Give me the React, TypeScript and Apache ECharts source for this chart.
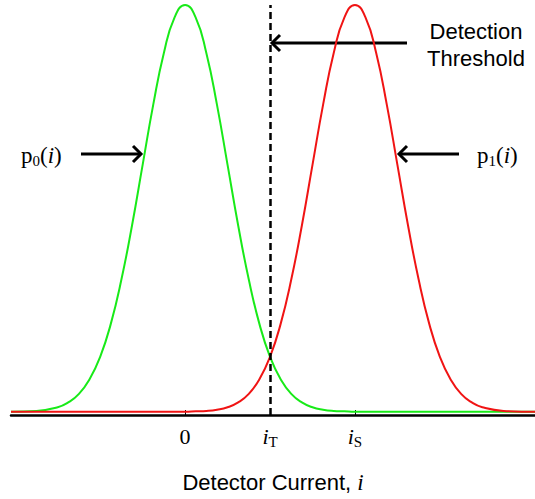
import React, { useEffect, useRef } from "react";
import * as echarts from "echarts";

// Detector current (in units of the noise standard deviation)
const currents = [
  -4.1, -3.5, -3, -2.75, -2.5, -2.25, -2, -1.75, -1.5, -1.25, -1, -0.75, -0.5, -0.25,
  0, 0.25, 0.5, 0.75, 1, 1.25, 1.5, 1.75, 2, 2.25, 2.5, 2.75, 3, 3.25, 3.5, 3.75,
  4, 4.25, 4.5, 4.75, 5, 5.25, 5.5, 5.75, 6, 6.25, 6.5, 6.75, 7, 7.5, 8.24,
];
// p0(i): noise only (relative height, peak = 100)
const p0Values = [
  0, 0.2, 1.1, 2.3, 4.4, 8.0, 13.5, 21.6, 32.5, 45.8, 60.7, 75.5, 88.2, 96.9,
  100, 96.9, 88.2, 75.5, 60.7, 45.8, 32.5, 21.6, 13.5, 8.0, 4.4, 2.3, 1.1, 0.5, 0.2, 0.1,
  0, 0, 0, 0, 0, 0, 0, 0, 0, 0, 0, 0, 0, 0, 0,
];
// p1(i): signal plus noise
const p1Values = [
  0, 0, 0, 0, 0, 0, 0, 0, 0, 0, 0, 0, 0, 0,
  0, 0.1, 0.2, 0.5, 1.1, 2.3, 4.4, 8.0, 13.5, 21.6, 32.5, 45.8, 60.7, 75.5, 88.2, 96.9,
  100, 96.9, 88.2, 75.5, 60.7, 45.8, 32.5, 21.6, 13.5, 8.0, 4.4, 2.3, 1.1, 0.2, 0,
];
const thresholdValue = 2;
const tickValues = [0, 2, 4];
const tickLabels = ["{n|0}", "{i|i}{s|T}", "{i|i}{s|S}"];

export default function App() {
  const ref = useRef<HTMLDivElement>(null);
  useEffect(() => {
    if (!ref.current) return;
    const chart = echarts.init(ref.current, null, { renderer: "svg" });
    const serif = "Liberation Serif";
    const sans = "Liberation Sans";
    const arrowStyle = { stroke: "#000", lineWidth: 3, fill: "none" };
    const pRich = {
      p: { fontFamily: serif, fontSize: 23, fill: "#000", lineHeight: 23, padding: [0, 0, 2, 0] },
      i: { fontFamily: serif, fontStyle: "italic", fontSize: 23, fill: "#000", lineHeight: 23, padding: [0, 0, 2, 0] },
      s: { fontFamily: serif, fontSize: 15, fill: "#000", lineHeight: 15, verticalAlign: "bottom" },
    };
    chart.setOption({
      animation: false,
      backgroundColor: "#fff",
      grid: { left: 11, right: 0, top: 5, bottom: 79 },
      xAxis: {
        type: "value",
        min: -4.1,
        max: 8.24,
        splitLine: { show: false },
        axisLine: { show: true, onZero: false, lineStyle: { color: "#000", width: 2.5 } },
        axisTick: {
          show: true,
          inside: true,
          length: 5,
          customValues: tickValues,
          lineStyle: { color: "#000", width: 1 },
        },
        axisLabel: {
          show: true,
          customValues: tickValues,
          margin: 12,
          color: "#000",
          formatter: (v: number) => tickLabels[tickValues.indexOf(v)] ?? "",
          rich: {
            n: { fontFamily: serif, fontSize: 22, color: "#000", lineHeight: 22, padding: [0, 0, 3, 0] },
            i: { fontFamily: serif, fontStyle: "italic", fontSize: 22, color: "#000", lineHeight: 22, padding: [0, 0, 3, 0] },
            s: { fontFamily: serif, fontSize: 15, color: "#000", lineHeight: 15, verticalAlign: "bottom" },
          },
        },
        name: "Detector Current, {i|i}",
        nameLocation: "middle",
        nameGap: 56,
        nameTextStyle: {
          fontFamily: sans,
          fontSize: 22,
          color: "#000",
          rich: {
            i: { fontFamily: serif, fontStyle: "italic", fontSize: 23, color: "#000" },
          },
        },
      },
      yAxis: { type: "value", min: -0.8, max: 100, show: false },
      series: [
        {
          name: "p0",
          type: "line",
          data: currents.map((c, k) => [c, p0Values[k]]),
          smooth: true,
          showSymbol: false,
          lineStyle: { color: "#18ea18", width: 2 },
          z: 2,
        },
        {
          name: "p1",
          type: "line",
          data: currents.map((c, k) => [c, p1Values[k]]),
          smooth: true,
          showSymbol: false,
          lineStyle: { color: "#f01414", width: 2 },
          z: 3,
          markLine: {
            silent: true,
            symbol: "none",
            label: { show: false },
            lineStyle: { color: "#000", type: [7, 4], width: 2.5 },
            data: [{ xAxis: thresholdValue }],
            z: 5,
          },
        },
      ],
      graphic: [
        {
          type: "text",
          x: 476,
          y: 18,
          style: {
            text: "Detection\nThreshold",
            fontFamily: sans,
            fontSize: 22,
            lineHeight: 27,
            align: "center",
            fill: "#000",
          },
        },
        { type: "line", shape: { x1: 407, y1: 43, x2: 272, y2: 43 }, style: arrowStyle },
        { type: "polyline", shape: { points: [[280, 35], [272, 43], [280, 51]] }, style: arrowStyle },
        { type: "line", shape: { x1: 81, y1: 154, x2: 141, y2: 154 }, style: arrowStyle },
        { type: "polyline", shape: { points: [[133, 146], [141, 154], [133, 162]] }, style: arrowStyle },
        { type: "line", shape: { x1: 459, y1: 154, x2: 399, y2: 154 }, style: arrowStyle },
        { type: "polyline", shape: { points: [[407, 146], [399, 154], [407, 162]] }, style: arrowStyle },
        {
          type: "text",
          x: 21,
          y: 145,
          style: { text: "{p|p}{s|0}{p|(}{i|i}{p|)}", rich: pRich },
        },
        {
          type: "text",
          x: 477,
          y: 145,
          style: { text: "{p|p}{s|1}{p|(}{i|i}{p|)}", rich: pRich },
        },
      ],
    });
    return () => chart.dispose();
  }, []);
  return (
    <div
      ref={ref}
      style={{ position: "fixed", left: 0, top: 0, width: 535, height: 499, background: "#fff" }}
    />
  );
}
